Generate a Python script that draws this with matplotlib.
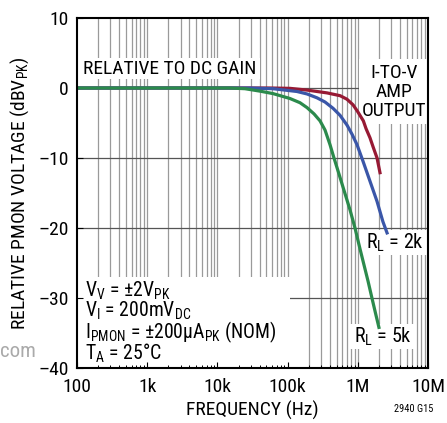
import matplotlib.pyplot as plt
from matplotlib import font_manager
from matplotlib.patches import Rectangle

# a narrow sans, like the datasheet's condensed Helvetica
installed = set(f.name for f in font_manager.fontManager.ttflist)
narrow = 'DejaVu Sans'
for name in ['Nimbus Sans Narrow', 'Liberation Sans Narrow', 'Arial Narrow', 'Roboto Condensed',
             'Archivo Narrow', 'PT Sans Narrow', 'Pragati Narrow', 'Open Sans Condensed']:
    if name in installed:
        narrow = name
        break

plt.rcParams['font.family'] = [narrow, 'DejaVu Sans']
plt.rcParams['mathtext.fontset'] = 'custom'
plt.rcParams['mathtext.rm'] = narrow
plt.rcParams['mathtext.it'] = narrow
plt.rcParams['mathtext.default'] = 'regular'

# values, frequency in Hz and level in dB
freq_amp = [100, 56e3, 108e3, 190e3, 365e3, 560e3, 700e3, 855e3, 1.0e6, 1.2e6, 1.31e6, 1.49e6, 1.65e6, 1.88e6, 2.07e6]
db_amp = [0, 0, -0.05, -0.3, -0.7, -1.1, -1.6, -2.4, -3.4, -4.7, -5.8, -7.1, -8.4, -10.0, -12.1]

freq_2k = [100, 29e3, 62e3, 136e3, 189e3, 262e3, 341e3, 444e3, 558e3, 702e3, 827e3, 975e3,
           1.19e6, 1.49e6, 1.88e6, 2.28e6, 2.61e6]
db_2k = [0, 0, -0.1, -0.5, -0.85, -1.4, -2.0, -2.9, -3.9, -5.3, -6.6, -8.1,
         -10.5, -13.3, -16.2, -19.1, -20.7]

freq_5k = [100, 15e3, 24.7e3, 40.5e3, 62e3, 108e3, 150e3, 189e3, 238e3, 290e3, 341e3, 402e3, 458e3,
           540e3, 635e3, 774e3, 912e3, 1.07e6, 1.22e6, 1.40e6, 1.59e6, 1.82e6, 2.0e6]
db_5k = [0, 0, -0.1, -0.45, -0.8, -1.5, -2.1, -2.8, -3.7, -4.7, -6.0, -8.1, -10.0,
         -12.3, -14.6, -17.4, -20.0, -22.9, -25.2, -27.6, -30.0, -32.5, -34.2]

x_ticks = [1e2, 1e3, 1e4, 1e5, 1e6, 1e7]
x_labels = ['100', '1k', '10k', '100k', '1M', '10M']
y_ticks = [10, 0, -10, -20, -30, -40]
y_labels = ['10', '0', '–10', '–20', '–30', '–40']

W, H = 447, 423
L, R, T, B = 77, 428, 18, 368

fig = plt.figure(figsize=(W / 100, H / 100), dpi=100)
ax = fig.add_axes([L / W, 1 - B / H, (R - L) / W, (B - T) / H])
ax.set_xscale('log')
ax.set_xlim(1e2, 1e7)
ax.set_ylim(-40, 10)

# grid by hand, so the white label boxes sit over it but under the ticks
for dec in range(2, 7):
    for k in range(1, 10):
        f = k * 10 ** dec
        if f > 1e2:
            ax.axvline(f, color='#9a9a9a', lw=0.9, zorder=0.5)
for yv in [0, -10, -20, -30]:
    ax.axhline(yv, color='#555555', lw=0.9, zorder=0.5)


def box(x0, y0, x1, y1):
    # pixel rectangle -> axes coords
    ax.add_patch(Rectangle(((x0 - L) / (R - L), (B - y1) / (B - T)),
                           (x1 - x0) / (R - L), (y1 - y0) / (B - T),
                           transform=ax.transAxes, fc='white', ec='none', zorder=1))


box(77, 58, 260, 79)
box(359, 59, 428, 124)
box(362, 230, 428, 255)
box(350, 324, 415, 349)
box(77, 277, 290, 368)

ax.plot(freq_amp, db_amp, color='#971a34', lw=2.3, zorder=2)
ax.plot(freq_2k, db_2k, color='#3a56a8', lw=2.3, zorder=2)
ax.plot(freq_5k, db_5k, color='#2b8a4c', lw=2.3, zorder=2)


def ax_pt(x, y):
    return (x - L) / (R - L), (B - y) / (B - T)


ax.text(*ax_pt(170, 68.5), 'RELATIVE TO DC GAIN', transform=ax.transAxes,
        ha='center', va='center', fontsize=14, zorder=3)
ax.text(*ax_pt(394, 92), 'I-TO-V\nAMP\nOUTPUT', transform=ax.transAxes,
        ha='center', va='center', fontsize=14, linespacing=1.05, zorder=3)
ax.text(*ax_pt(395, 243), '$R_L$ = 2k', transform=ax.transAxes,
        ha='center', va='center', fontsize=14.5, zorder=3)
ax.text(*ax_pt(383, 337), '$R_L$ = 5k', transform=ax.transAxes,
        ha='center', va='center', fontsize=14.5, zorder=3)
cond = ['$V_V$ = ±2$V_{PK}$', '$V_I$ = 200m$V_{DC}$',
        '$I_{PMON}$ = ±200μ$A_{PK}$ (NOM)', '$T_A$ = 25°C']
ax.text(*ax_pt(85, 280), '\n'.join(cond), transform=ax.transAxes,
        ha='left', va='top', fontsize=14.2, linespacing=0.85, zorder=3)

ax.set_xticks(x_ticks)
ax.set_xticklabels(x_labels)
ax.set_yticks(y_ticks)
ax.set_yticklabels(y_labels)
ax.tick_params(which='both', direction='in', labelsize=14, color='black')
ax.tick_params(which='major', length=4, width=0.8)
ax.tick_params(axis='x', which='major', pad=7)
ax.tick_params(axis='y', which='major', pad=6)
ax.tick_params(which='minor', length=2.5, width=0.7)
ax.tick_params(axis='y', which='minor', left=False)
for s in ax.spines.values():
    s.set_linewidth(1.5)
    s.set_zorder(4)

ax.set_xlabel('FREQUENCY (Hz)', fontsize=14, labelpad=4)
ax.set_ylabel('RELATIVE PMON VOLTAGE (dB$V_{PK}$)', fontsize=14, labelpad=5)

fig.text(414 / W, 1 - 409 / H, '2940 G15', fontsize=7.5, ha='center', va='center')
fig.text(0, 1 - 351 / H, 'com', fontsize=15, color='#aaaaaa', ha='left', va='center')

fig.savefig('out.png', dpi=100)
